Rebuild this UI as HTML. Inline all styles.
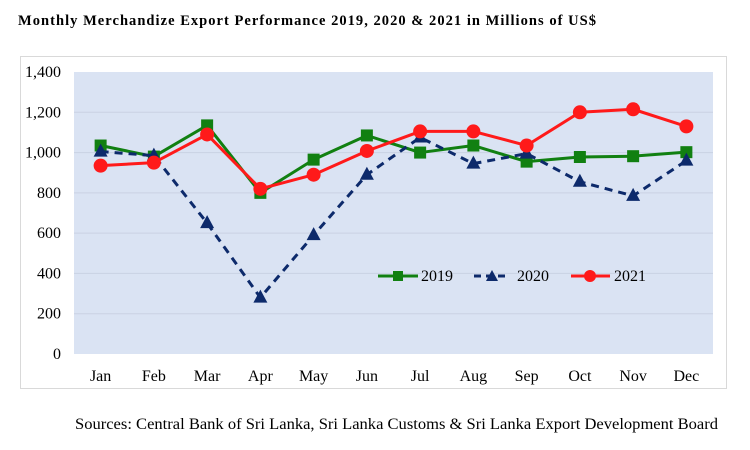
<!DOCTYPE html>
<html><head><meta charset="utf-8"><style>
body{margin:0;background:#fff;width:750px;height:450px;overflow:hidden;font-family:"Liberation Serif",serif}
svg{display:block}
</style></head><body>
<svg width="750" height="450">
<text x="18" y="25" font-size="14.5" font-weight="bold" textLength="578" lengthAdjust="spacing">Monthly Merchandize Export Performance 2019, 2020 &amp; 2021 in Millions of US$</text>
<rect x="20.5" y="56.5" width="706" height="332" fill="#fff" stroke="#d9d9d9"/>
<rect x="74" y="72" width="639" height="282" fill="#dae3f3"/>
<g id="grid"></g><g id="ylab"></g><g id="xlab"></g><g id="series"></g>
<g font-size="16">
<g><line x1="378" y1="276" x2="418" y2="276" stroke="#118011" stroke-width="3"/><rect x="393" y="271" width="10" height="10" fill="#118011"/><text x="421" y="281">2019</text></g>
<g><line x1="474" y1="276" x2="510" y2="276" stroke="#0d2a6b" stroke-width="3" stroke-dasharray="7,5"/><polygon points="492,270 498,281 486,281" fill="#0d2a6b"/><text x="517" y="281">2020</text></g>
<g><line x1="571" y1="276" x2="610" y2="276" stroke="#ff1a1a" stroke-width="3"/><circle cx="590" cy="276" r="6" fill="#ff1a1a"/><text x="614" y="281">2021</text></g>
</g>
<text x="75" y="429" font-size="16" textLength="643" lengthAdjust="spacingAndGlyphs">Sources: Central Bank of Sri Lanka, Sri Lanka Customs &amp; Sri Lanka Export Development Board</text>
</svg>
<script>
const categories=["Jan","Feb","Mar","Apr","May","Jun","Jul","Aug","Sep","Oct","Nov","Dec"];
const values2019=[1035,980,1135,800,965,1085,1000,1035,955,978,982,1002];
const values2020=[1005,985,650,280,590,890,1075,945,995,855,785,960];
const values2021=[935,950,1090,820,890,1008,1105,1105,1035,1200,1215,1130];
const yTicks=[0,200,400,600,800,1000,1200,1400];
const yTickLabels=["0","200","400","600","800","1,000","1,200","1,400"];
const NS="http://www.w3.org/2000/svg";
const X0=74,X1=713,Y0=354,Y1=72,YMAX=1400;
const bw=(X1-X0)/categories.length;
function xs(i){return X0+bw*(i+0.5);}
function ys(v){return Y0-(v/YMAX)*(Y0-Y1);}
function mk(t,a,p){const e=document.createElementNS(NS,t);for(const k in a)e.setAttribute(k,a[k]);p.appendChild(e);return e;}
const grid=document.getElementById('grid'),yl=document.getElementById('ylab'),xl=document.getElementById('xlab'),ser=document.getElementById('series');
yTicks.forEach((v,i)=>{
 if(v>0&&v<YMAX){const l=mk('line',{x1:X0,x2:X1,y1:ys(v),y2:ys(v),stroke:'#c9d2e3','stroke-width':1},grid);
 
 }
 const t=mk('text',{x:61,y:ys(v)+5,'text-anchor':'end','font-size':16},yl);t.textContent=yTickLabels[i];
 
 
});
categories.forEach((c,i)=>{
 const t=mk('text',{x:xs(i),y:381,'text-anchor':'middle','font-size':16},xl);t.textContent=c;
 
 
});
function drawSeries(vals,color,dash,marker,name){
 const g=mk('g',{},ser);
 
 
 const pts=vals.map((v,i)=>xs(i)+','+ys(v)).join(' ');
 const pl=mk('polyline',{points:pts,fill:'none',stroke:color,'stroke-width':3,'stroke-dasharray':dash||'none','stroke-linejoin':'round'},g);
 
 
 vals.forEach((v,i)=>{
  const x=xs(i),y=ys(v);let m;
  if(marker==='square')m=mk('rect',{x:x-6,y:y-6,width:12,height:12,fill:color},g);
  else if(marker==='tri')m=mk('polygon',{points:`${x},${y-8} ${x+7},${y+5} ${x-7},${y+5}`,fill:color},g);
  else m=mk('circle',{cx:x,cy:y,r:7,fill:color},g);
  
  
 });
}
drawSeries(values2019,'#118011',null,'square','series-2019');
drawSeries(values2020,'#0d2a6b','8,6','tri','series-2020');
drawSeries(values2021,'#ff1a1a',null,'circle','series-2021');
</script>
</body></html>
